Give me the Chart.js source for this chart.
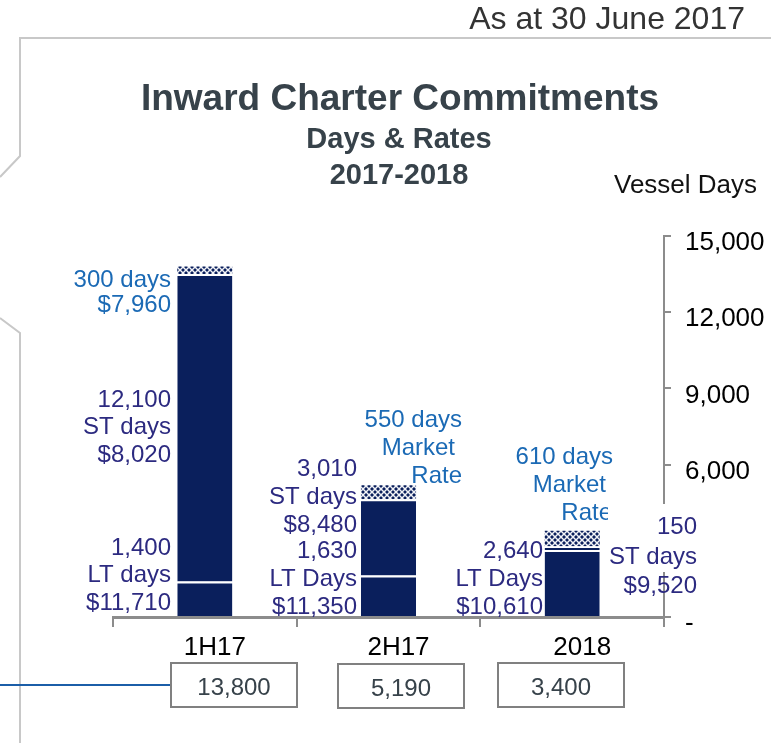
<!DOCTYPE html>
<html>
<head>
<meta charset="utf-8">
<script src="https://cdn.jsdelivr.net/npm/chart.js@4.4.1/dist/chart.umd.min.js"></script>
<style>
  body { margin: 0; background: #fff; }
  #wrap { width: 771px; height: 743px; position: relative; }
</style>
</head>
<body>
<div id="wrap"><canvas id="myChart"></canvas></div>
<script>
const categories = ['1H17', '2H17', '2018'];
const ltDays = [1400, 1630, 2640];
const stDays = [12100, 3010, 150];
const marketDays = [300, 550, 610];
const ltRates = ['$11,710', '$11,350', '$10,610'];
const stRates = ['$8,020', '$8,480', '$9,520'];
const yMin = 0;
const yMax = 15000;
const yStep = 3000;

const navy = '#0a1f5c';
const labelBlue = '#1b6ab5';
const labelIndigo = '#2c2a80';
const slate = '#37424a';
const axisGrey = '#8c8c8c';
const font = "'Liberation Sans', Arial, sans-serif";

function fmt(n) {
  return n.toLocaleString('en-US');
}

// text blocks: [lines, right edge x, first line y, line step, colour]
const notes = [
  [[fmt(marketDays[0]) + ' days', '$7,960'], 171, 280, 25, labelBlue],
  [[fmt(stDays[0]), 'ST days', stRates[0]], 171, 400, 27.5, labelIndigo],
  [[fmt(ltDays[0]), 'LT days', ltRates[0]], 171, 548, 27.5, labelIndigo],
  [[fmt(stDays[1]), 'ST days', stRates[1]], 357, 469, 28, labelIndigo],
  [[fmt(ltDays[1]), 'LT Days', ltRates[1]], 357, 551, 28, labelIndigo],
  [[fmt(ltDays[2]), 'LT Days', ltRates[2]], 543, 551, 28, labelIndigo]
];

// market rate notes for 2H17 and 2018, each line has its own right edge
const marketNotes = [
  [[fmt(marketDays[1]) + ' days', 462, 420], ['Market', 455, 448], ['Rate', 462, 476]],
  [[fmt(marketDays[2]) + ' days', 613, 457], ['Market', 606, 485], ['Rate', 612, 513]]
];

const totalBoxes = [[171, 663], [338, 664], [498, 663]];

function makeHatch() {
  const c = document.createElement('canvas');
  c.width = 6;
  c.height = 6;
  const g = c.getContext('2d');
  g.fillStyle = navy;
  g.fillRect(0, 0, 6, 6);
  g.strokeStyle = 'rgba(255,255,255,0.95)';
  g.lineWidth = 1.5;
  g.beginPath();
  g.moveTo(0, 0); g.lineTo(6, 6);
  g.moveTo(6, 0); g.lineTo(0, 6);
  g.stroke();
  return g.createPattern(c, 'repeat');
}

const decorations = {
  id: 'decorations',
  beforeDraw(chart) {
    const ctx = chart.ctx;
    ctx.save();
    ctx.fillStyle = '#fff';
    ctx.fillRect(0, 0, chart.width, chart.height);

    // frame lines
    ctx.strokeStyle = '#c8c8c8';
    ctx.lineWidth = 2;
    ctx.beginPath();
    ctx.moveTo(0, 177); ctx.lineTo(20, 156); ctx.lineTo(20, 38); ctx.lineTo(771, 38);
    ctx.moveTo(0, 318); ctx.lineTo(20, 333); ctx.lineTo(20, 743);
    ctx.stroke();

    ctx.fillStyle = '#333';
    ctx.font = '32px ' + font;
    ctx.textAlign = 'right';
    ctx.textBaseline = 'middle';
    ctx.fillText('As at 30 June 2017', 745, 20);

    ctx.fillStyle = slate;
    ctx.textAlign = 'center';
    ctx.font = 'bold 37px ' + font;
    ctx.fillText('Inward Charter Commitments', 400, 100);
    ctx.font = 'bold 29px ' + font;
    ctx.fillText('Days & Rates', 399, 140);
    ctx.fillText('2017-2018', 399, 176);

    ctx.fillStyle = '#111';
    ctx.textAlign = 'left';
    ctx.font = '26px ' + font;
    ctx.fillText('Vessel Days', 614, 186);
    ctx.restore();
  },
  afterDraw(chart) {
    const ctx = chart.ctx;
    ctx.save();
    ctx.textAlign = 'right';
    ctx.textBaseline = 'middle';
    ctx.font = '24px ' + font;

    notes.forEach(n => {
      ctx.fillStyle = n[4];
      n[0].forEach((line, i) => ctx.fillText(line, n[1], n[2] + i * n[3]));
    });

    ctx.fillStyle = labelBlue;
    marketNotes.forEach(block => {
      block.forEach(l => ctx.fillText(l[0], l[1], l[2]));
    });

    // text box for the small 2018 ST block, it hides the axis behind it
    ctx.fillStyle = '#fff';
    ctx.fillRect(608, 504, 163, 68);
    ctx.fillStyle = labelIndigo;
    ctx.fillText(fmt(stDays[2]), 697, 527);
    ctx.fillText('ST days', 697, 557);
    ctx.fillText(stRates[2], 697, 586);

    // link line and totals
    ctx.strokeStyle = '#1b5ea8';
    ctx.lineWidth = 2;
    ctx.beginPath();
    ctx.moveTo(0, 685);
    ctx.lineTo(171, 685);
    ctx.stroke();

    ctx.textAlign = 'center';
    ctx.font = '24px ' + font;
    totalBoxes.forEach((b, i) => {
      const total = ltDays[i] + stDays[i] + marketDays[i];
      ctx.strokeStyle = '#808080';
      ctx.lineWidth = 2;
      ctx.strokeRect(b[0], b[1], 126, 44);
      ctx.fillStyle = slate;
      ctx.fillText(fmt(total), b[0] + 63, b[1] + 25);
    });
    ctx.restore();
  }
};

const myChart = document.getElementById('myChart');
new Chart(myChart, {
  type: 'bar',
  data: {
    labels: categories,
    datasets: [
      {
        label: 'LT days',
        data: ltDays,
        backgroundColor: navy,
        borderColor: '#fff',
        borderWidth: { top: 2, left: 0, right: 0, bottom: 0 },
        borderSkipped: false
      },
      {
        label: 'ST days',
        data: stDays,
        backgroundColor: navy,
        borderColor: '#fff',
        borderWidth: { top: 2, left: 0, right: 0, bottom: 0 },
        borderSkipped: false
      },
      {
        label: 'Market',
        data: marketDays,
        backgroundColor: makeHatch(),
        borderWidth: 0
      }
    ]
  },
  options: {
    responsive: true,
    maintainAspectRatio: false,
    animation: false,
    layout: { padding: { left: 113, top: 236, right: 0, bottom: 0 } },
    datasets: { bar: { barPercentage: 0.3, categoryPercentage: 1 } },
    plugins: {
      legend: { display: false },
      tooltip: { enabled: false }
    },
    scales: {
      x: {
        stacked: true,
        afterFit(scale) { scale.height = 743 - 617; },
        border: { display: true, color: axisGrey, width: 3 },
        grid: {
          offset: true,
          drawOnChartArea: false,
          drawTicks: true,
          tickLength: 10,
          color: axisGrey,
          lineWidth: 2
        },
        ticks: {
          color: '#000',
          font: { family: font, size: 26 },
          padding: 5,
          labelOffset: 10
        }
      },
      y: {
        stacked: true,
        position: 'right',
        min: yMin,
        max: yMax,
        afterFit(scale) { scale.width = 771 - 664; },
        border: { display: true, color: axisGrey, width: 2 },
        grid: {
          drawOnChartArea: false,
          drawTicks: true,
          tickLength: 7,
          color: axisGrey,
          lineWidth: 2
        },
        ticks: {
          stepSize: yStep,
          color: '#000',
          font: { family: font, size: 26 },
          padding: 14,
          labelOffset: 7,
          callback: v => v === 0 ? '-' : fmt(v)
        }
      }
    }
  },
  plugins: [decorations]
});
</script>
</body>
</html>
